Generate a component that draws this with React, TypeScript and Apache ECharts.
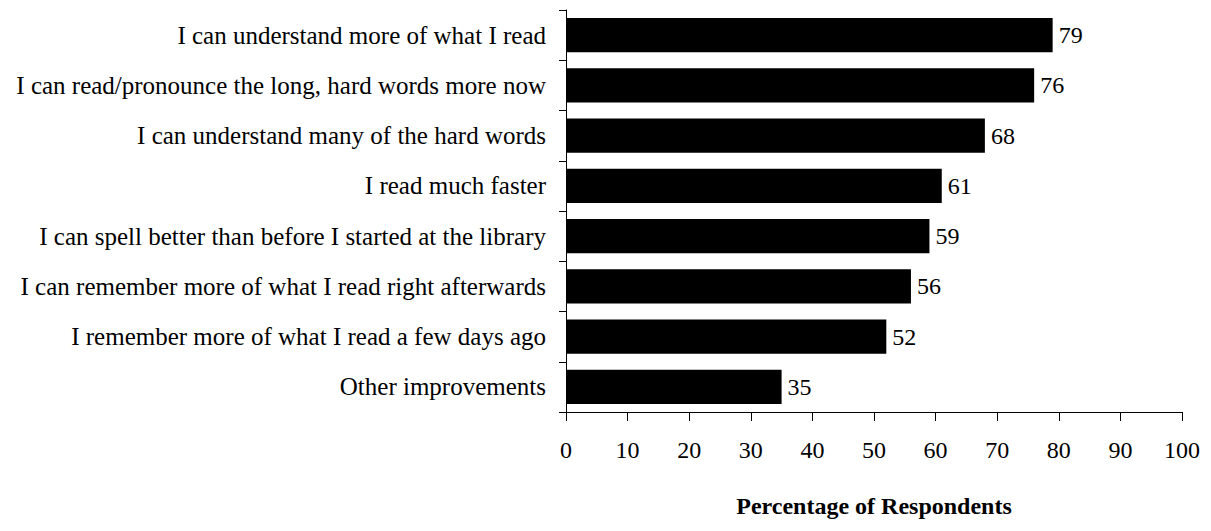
import React, { useEffect, useRef } from "react";
import * as echarts from "echarts";

const categories = [
  "I can understand more of what I read",
  "I can read/pronounce the long, hard words more now",
  "I can understand many of the hard words",
  "I read much faster",
  "I can spell better than before I started at the library",
  "I can remember more of what I read right afterwards",
  "I remember more of what I read a few days ago",
  "Other improvements",
];
const values = [79, 76, 68, 61, 59, 56, 52, 35];
const xTitle = "Percentage of Respondents";

const FONT = "'Liberation Serif', 'Times New Roman', serif";

export default function App() {
  const ref = useRef<HTMLDivElement>(null);
  useEffect(() => {
    if (!ref.current) return;
    const chart = echarts.init(ref.current, null, { renderer: "svg" });
    chart.setOption({
      animation: false,
      backgroundColor: "#fff",
      grid: { left: 558, right: 20, top: 2, bottom: 91, containLabel: false },
      xAxis: {
        type: "value",
        min: 0,
        max: 100,
        interval: 10,
        name: xTitle,
        nameLocation: "middle",
        nameGap: 82,
        nameTextStyle: { fontFamily: FONT, fontSize: 24, fontWeight: "bold", color: "#000" },
        axisLine: { show: true, lineStyle: { color: "#000", width: 1 } },
        axisTick: { show: true, length: 9, lineStyle: { color: "#000" } },
        axisLabel: { fontFamily: FONT, fontSize: 24, color: "#000", margin: 26 },
        splitLine: { show: false },
      },
      yAxis: {
        type: "category",
        inverse: true,
        data: categories,
        axisLine: { show: true, lineStyle: { color: "#000", width: 1 } },
        axisTick: { show: true, length: 7, lineStyle: { color: "#000" } },
        axisLabel: { fontFamily: FONT, fontSize: 25, color: "#000", margin: 20 },
      },
      series: [
        {
          type: "bar",
          data: values,
          barCategoryGap: "32%",
          itemStyle: { color: "#000" },
          label: {
            show: true,
            position: "right",
            distance: 6,
            fontFamily: FONT,
            fontSize: 24,
            color: "#000",
          },
        },
      ],
    });
    return () => chart.dispose();
  }, []);
  return <div ref={ref} style={{ width: 1195, height: 515 }} />;
}
